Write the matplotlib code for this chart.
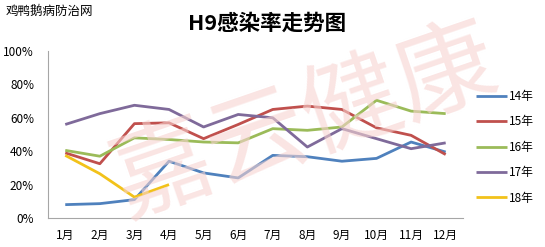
import matplotlib.pyplot as plt
import numpy as np

plt.rcParams['font.family'] = ['Noto Sans CJK SC', 'DejaVu Sans']

months = ['1月', '2月', '3月', '4月', '5月', '6月', '7月', '8月', '9月', '10月', '11月', '12月']
y14 = [8, 8.6, 11, 34, 27, 24, 37.5, 36.7, 34, 35.7, 45.5, 39.5]
y15 = [39, 32.5, 56.5, 57, 47.5, 56, 65, 67, 65, 54, 49.5, 38]
y16 = [40.5, 37, 48, 47, 45.5, 45, 53.5, 52.5, 54.5, 70.5, 64, 62.5]
y17 = [56, 62.5, 67.5, 65, 54.5, 62, 60, 42.5, 53.5, 47.5, 41.5, 45]
y18 = [37.5, 26.5, 12.5, 20]
labels = ['14年', '15年', '16年', '17年', '18年']
colors = ['#4F81BD', '#C0504D', '#9BBB59', '#7F6A9A', '#F2C21A']

fig = plt.figure(figsize=(5.45, 2.47), dpi=100)
ax = fig.add_axes([0.088, 0.1174, 0.7615, 0.6761])

# watermark
fig.text(0.56, 0.5, '嘉云健康', fontsize=72, color='#F7D3D0', alpha=0.6,
         rotation=19, ha='center', va='center', zorder=0)
ax.patch.set_alpha(0)

x = np.arange(1, 13)
series = [y14, y15, y16, y17, y18]
for vals, lab, c in zip(series, labels, colors):
    ax.plot(x[:len(vals)], vals, color=c, lw=2.0, label=lab, solid_capstyle='butt')

ax.set_xlim(0.5, 12.5)
ax.set_ylim(0, 100)
ax.set_xticks(x)
ax.set_xticklabels(months, fontsize=8.5)
ax.set_yticks([0, 20, 40, 60, 80, 100])
ax.set_yticklabels(['0%', '20%', '40%', '60%', '80%', '100%'], fontsize=8.5)
ax.tick_params(length=0, pad=8)
ax.tick_params(axis='y', pad=10)
for s in ['top', 'right']:
    ax.spines[s].set_visible(False)
for s in ['left', 'bottom']:
    ax.spines[s].set_color('#A6A6A6')
    ax.spines[s].set_linewidth(0.8)

ax.legend(loc='upper left', bbox_to_anchor=(1.02, 0.795), frameon=False,
          fontsize=8.5, handlelength=2.6, handletextpad=0.2, labelspacing=1.05,
          borderaxespad=0)

fig.text(0.49, 0.905, 'H9感染率走势图', fontsize=15.5, fontweight='bold',
         ha='center', va='center')
fig.text(0.01, 0.955, '鸡鸭鹅病防治网', fontsize=9, ha='left', va='center')

fig.savefig('out.png', dpi=100)
